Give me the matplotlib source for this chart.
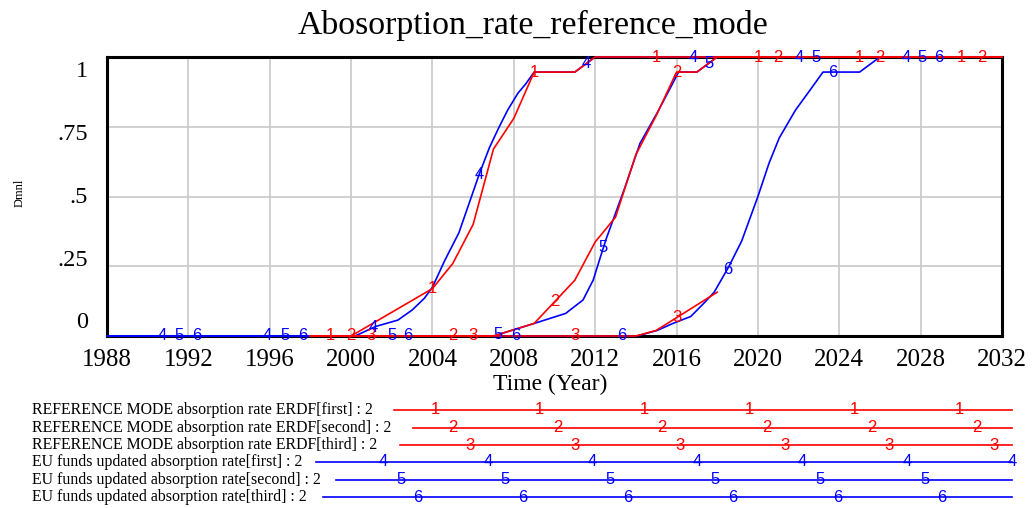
import matplotlib
matplotlib.use("Agg")
import matplotlib.pyplot as plt
import matplotlib.transforms as mtransforms
from matplotlib.lines import Line2D
import numpy as np

# reference mode (red) series
ref_first_t = [1998, 2000, 2004, 2005, 2006, 2007, 2008, 2009, 2011, 2012, 2032]
ref_first_v = [0, 0, 0.17, 0.26, 0.40, 0.67, 0.78, 0.946, 0.946, 1.0, 1.0]
ref_second_t = [1998, 2007, 2009, 2011, 2012, 2013, 2014, 2015, 2016, 2017, 2018, 2032]
ref_second_v = [0, 0, 0.045, 0.20, 0.337, 0.426, 0.65, 0.79, 0.946, 0.946, 1.0, 1.0]
ref_third_t = [1998, 2014, 2015, 2018]
ref_third_v = [0, 0, 0.02, 0.157]

# EU funds updated (blue) series
eu_first_t = [1988, 2000.2, 2001.2, 2002.3, 2003.0, 2003.6, 2004.0, 2004.6, 2005.3, 2005.8,
              2006.3, 2006.8, 2007.25, 2007.7, 2008.2, 2008.6, 2009.0, 2011.0, 2012.0, 2032]
eu_first_v = [0, 0, 0.034, 0.057, 0.093, 0.135, 0.175, 0.27, 0.37, 0.475,
              0.58, 0.675, 0.745, 0.81, 0.87, 0.905, 0.946, 0.946, 1.0, 1.0]
eu_second_t = [1988, 2007.0, 2009.0, 2010.55, 2011.4, 2011.9, 2012.2, 2012.55, 2012.95, 2013.45,
               2014.2, 2015.05, 2015.7, 2016.1, 2017.0, 2018.0, 2032]
eu_second_v = [0, 0, 0.045, 0.081, 0.129, 0.20, 0.27, 0.35, 0.43, 0.53,
               0.69, 0.80, 0.89, 0.946, 0.946, 1.0, 1.0]
eu_third_t = [1988, 2014.05, 2015.05, 2015.85, 2016.7, 2017.35, 2017.85, 2018.55, 2019.2, 2020.0,
              2020.55, 2021.05, 2021.85, 2022.55, 2023.2, 2025.0, 2026.0, 2032]
eu_third_v = [0, 0, 0.02, 0.046, 0.07, 0.118, 0.157, 0.246, 0.34, 0.5,
              0.62, 0.71, 0.81, 0.88, 0.946, 0.946, 1.0, 1.0]

# years where the series numbers are printed on the curves
marks_1 = [1999, 2004, 2009, 2015, 2020, 2025, 2030]
marks_2 = [2000, 2005, 2010, 2016, 2021, 2026, 2031]
marks_3 = [2001, 2006, 2011, 2016]
marks_4 = [1990.7, 1995.9, 2001.1, 2006.3, 2011.55, 2016.8, 2022.05, 2027.3]
marks_5 = [1991.55, 1996.75, 2002.0, 2007.2, 2012.4, 2017.6, 2022.85, 2028.05]
marks_6 = [1992.4, 1997.6, 2002.8, 2008.1, 2013.3, 2018.5, 2023.7, 2028.9]

legend_labels = [
    "REFERENCE MODE absorption rate ERDF[first] : 2",
    "REFERENCE MODE absorption rate ERDF[second] : 2",
    "REFERENCE MODE absorption rate ERDF[third] : 2",
    "EU funds updated absorption rate[first] : 2",
    "EU funds updated absorption rate[second] : 2",
    "EU funds updated absorption rate[third] : 2",
]
x_ticks = list(range(1988, 2033, 4))
y_ticks = [0, 0.25, 0.5, 0.75, 1]
y_tick_labels = ["0", ".25", ".5", ".75", "1"]

RED = "#ff0000"
BLUE = "#0000ff"
SERIF = "Liberation Serif"
SANS = "Liberation Sans"

W, H = 1032, 508
fig = plt.figure(figsize=(W / 100, H / 100), dpi=100)
ax = fig.add_axes([107 / W, 1 - 336 / H, (1002 - 107) / W, (336 - 57) / H])

series = [
    (ref_first_t, ref_first_v, marks_1, RED, "1"),
    (ref_second_t, ref_second_v, marks_2, RED, "2"),
    (ref_third_t, ref_third_v, marks_3, RED, "3"),
    (eu_first_t, eu_first_v, marks_4, BLUE, "4"),
    (eu_second_t, eu_second_v, marks_5, BLUE, "5"),
    (eu_third_t, eu_third_v, marks_6, BLUE, "6"),
]

# blue first so the red reference lines sit on top
for t, v, m, c, lab in series[3:] + series[:3]:
    ax.plot(t, v, color=c, lw=1.2, zorder=3, clip_on=False)
for t, v, m, c, lab in series:
    for yr in m:
        ax.text(yr, np.interp(yr, t, v), lab, color=c, fontsize=12, family=SANS,
                ha="center", va="center", zorder=4, clip_on=False)

ax.set_xlim(1988, 2032)
ax.set_ylim(0, 1)
ax.set_xticks(x_ticks)
ax.set_xticklabels([str(x) for x in x_ticks], fontsize=18, family=SERIF)
ax.set_yticks(y_ticks)
ax.set_yticklabels([])
ax.tick_params(length=0, pad=9)
ax.grid(True, color="#c8c8c8", lw=1.2, zorder=0)
for s in ax.spines.values():
    s.set_linewidth(2.2)
    s.set_zorder(2)

# vensim spreads the y labels a little inside the axis range
tr = mtransforms.blended_transform_factory(ax.transAxes, ax.transData)
for v, lab in zip(y_ticks, y_tick_labels):
    ax.text(-0.021, 0.047 + 0.9 * v, lab, transform=tr, ha="right", va="center",
            fontsize=17.5, family=SERIF)

fig.text(533 / W, 1 - 25 / H, "Abosorption_rate_reference_mode", ha="center", va="center",
         fontsize=24.3, family=SERIF)
fig.text(550 / W, 1 - 384 / H, "Time (Year)", ha="center", va="center", fontsize=17, family=SERIF)
fig.text(20 / W, 1 - 193 / H, "Dmnl", rotation=90, ha="center", va="center", fontsize=9, family=SERIF)

# legend below the plot
row_y = [410, 428, 445, 462, 480, 497]
line_start = [394, 413, 400, 316, 336, 323]
line_end = 1012
for i, (lab, (t, v, m, c, num)) in enumerate(zip(legend_labels, series)):
    yf = 1 - row_y[i] / H
    fig.text(32 / W, yf, lab, ha="left", va="center", fontsize=11.4, family=SERIF)
    fig.add_artist(Line2D([line_start[i] / W, line_end / W], [yf, yf], color=c, lw=1.2,
                          transform=fig.transFigure))
    for n in range(-2, 8):
        px = 435 + 17.6 * i + 104.8 * n
        if line_start[i] + 20 < px <= line_end + 2:
            fig.text(px / W, yf, num, color=c, ha="center", va="center", fontsize=12, family=SANS)

fig.savefig("out.png", dpi=100)
